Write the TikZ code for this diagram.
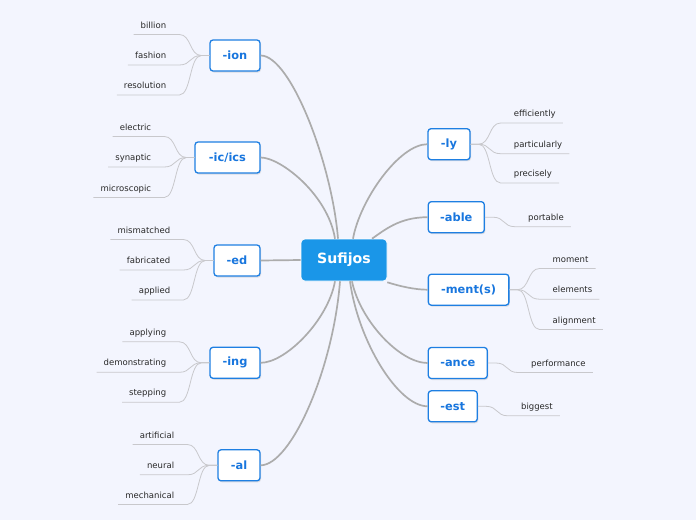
\documentclass[tikz,border=0pt]{standalone}
\usepackage{fontspec}
\setmainfont{DejaVu Sans}
\usetikzlibrary{calc,shadows}
\definecolor{bgcol}{RGB}{243,245,254}
\definecolor{mainblue}{RGB}{26,150,232}
\definecolor{edgeblue}{RGB}{30,127,226}
\definecolor{txtblue}{RGB}{24,118,222}
\definecolor{conncol}{RGB}{172,172,172}
\definecolor{leafcol}{RGB}{200,200,204}
\definecolor{leaftxt}{RGB}{40,40,40}
\tikzset{
  central/.style={fill=mainblue,draw=white,line width=0.6pt,rounded corners=4pt,
    minimum width=86pt,minimum height=42pt,inner sep=0pt,text=white,
    font=\fontsize{14.1}{16}\selectfont\bfseries},
  branch/.style={fill=white,draw=edgeblue,line width=1.3pt,rounded corners=3pt,
    minimum height=31pt,inner sep=0pt,text=txtblue,
    font=\fontsize{11.4}{13}\selectfont\bfseries,
    drop shadow={opacity=0.22,shadow xshift=1pt,shadow yshift=-1.5pt}},
  leaf/.style={inner xsep=0pt,inner ysep=4.4pt,text height=8pt,text depth=1.8pt,
    text=leaftxt,font=\fontsize{8.5}{10}\selectfont},
  leafline/.style={draw=leafcol,line width=0.8pt},
  conn/.style={draw=conncol,line width=1.7pt},
}
\newcommand\myleafL[4]{%
  \node[leaf,anchor=east] (#1) at ([xshift=-43pt,yshift=#3]#2.west) {#4};
  \draw[leafline] ([xshift=-7pt]#1.south west) -- ($(#1.south -| #2.west)+(-30,0)$)
    .. controls ($(#1.south -| #2.west)+(-18,0)$) and ($(#2.west)+(-20,0)$) .. ($(#2.west)+(-8,0)$) -- (#2.west);
}
\newcommand\myleafR[4]{%
  \node[leaf,anchor=west] (#1) at ([xshift=43pt,yshift=#3]#2.east) {#4};
  \draw[leafline] (#2.east) -- ($(#2.east)+(8,0)$)
    .. controls ($(#2.east)+(20,0)$) and ($(#1.south -| #2.east)+(18,0)$) .. ($(#1.south -| #2.east)+(30,0)$) -- ([xshift=7pt]#1.south east);
}
\begin{document}
\begin{tikzpicture}[x=1pt,y=-1pt]
\fill[bgcol] (0,0) rectangle (696,520);
\useasboundingbox (0,0) rectangle (696,520);

\node[central] (S) at (344,260) {Sufijos};

\node[branch,minimum width=50pt] (ion) at (235,55.5) {-ion};
\node[branch,minimum width=65pt] (ic) at (227.5,157.5) {-ic/ics};
\node[branch,minimum width=46pt] (ed) at (237,260.5) {-ed};
\node[branch,minimum width=50pt] (ing) at (235,362.8) {-ing};
\node[branch,minimum width=42pt] (al) at (239,465.3) {-al};
\node[branch,minimum width=42pt] (ly) at (449,144.2) {-ly};
\node[branch,minimum width=56pt] (able) at (456.3,217.2) {-able};
\node[branch,minimum width=80.5pt] (ment) at (468.6,289.7) {-ment(s)};
\node[branch,minimum width=59pt] (ance) at (457.8,363) {-ance};
\node[branch,minimum width=49pt] (est) at (452.8,406.3) {-est};

% main connectors
\coordinate (eion) at ($(S.north)+(-6,0)$);
\coordinate (eic) at ($(S.north)+(-9,0)$);
\coordinate (ely) at ($(S.north)+(9,0)$);
\coordinate (eable) at ($(S.north)+(28,0)$);
\coordinate (eing) at ($(S.south)+(-9,0)$);
\coordinate (eal) at ($(S.south)+(-4,0)$);
\coordinate (eance) at ($(S.south)+(8,0)$);
\coordinate (eest) at ($(S.south)+(6,0)$);
\coordinate (ement) at ($(S.south east)+(0,1)$);

\draw[conn] (ion.east) .. controls ($(ion.east)+(30,0)$) and ($(eion)+(-6,-75)$) .. (eion);
\draw[conn] (ic.east) .. controls ($(ic.east)+(20,0)$) and ($(eic)+(-7,-44)$) .. (eic);
\draw[conn] (ed.east) -- (S.west);
\draw[conn] (ing.east) .. controls ($(ing.east)+(25,0)$) and ($(eing)+(-7,39)$) .. (eing);
\draw[conn] (al.east) .. controls ($(al.east)+(30,0)$) and ($(eal)+(-7,89)$) .. (eal);
\draw[conn] (ly.west) .. controls ($(ly.west)+(-28,0)$) and ($(ely)+(7,-39)$) .. (ely);
\draw[conn] (able.west) .. controls ($(able.west)+(-28,0)$) and ($(eable)+(13,-9)$) .. (eable);
\draw[conn] (ment.west) .. controls ($(ment.west)+(-13,0)$) and ($(ement)+(13,4)$) .. (ement);
\draw[conn] (ance.west) .. controls ($(ance.west)+(-28,0)$) and ($(eance)+(8,39)$) .. (eance);
\draw[conn] (est.west) .. controls ($(est.west)+(-30,0)$) and ($(eest)+(8,59)$) .. (eest);

% leaves
\myleafL{l1}{ion}{30.5pt}{billion}
\myleafL{l2}{ion}{0pt}{fashion}
\myleafL{l3}{ion}{-30pt}{resolution}
\myleafL{l4}{ic}{30.5pt}{electric}
\myleafL{l5}{ic}{0pt}{synaptic}
\myleafL{l6}{ic}{-30.5pt}{microscopic}
\myleafL{l7}{ed}{30.5pt}{mismatched}
\myleafL{l8}{ed}{0pt}{fabricated}
\myleafL{l9}{ed}{-30pt}{applied}
\myleafL{l10}{ing}{30.5pt}{applying}
\myleafL{l11}{ing}{0pt}{demonstrating}
\myleafL{l12}{ing}{-30pt}{stepping}
\myleafL{l13}{al}{30.3pt}{artificial}
\myleafL{l14}{al}{0pt}{neural}
\myleafL{l15}{al}{-29.7pt}{mechanical}
\myleafR{r1}{ly}{30.7pt}{efficiently}
\myleafR{r2}{ly}{0pt}{particularly}
\myleafR{r3}{ly}{-29.3pt}{precisely}
\myleafR{r4}{able}{0pt}{portable}
\myleafR{r5}{ment}{30.7pt}{moment}
\myleafR{r6}{ment}{0pt}{elements}
\myleafR{r7}{ment}{-30.3pt}{alignment}
\myleafR{r8}{ance}{0pt}{performance}
\myleafR{r9}{est}{0pt}{biggest}
\end{tikzpicture}
\end{document}
